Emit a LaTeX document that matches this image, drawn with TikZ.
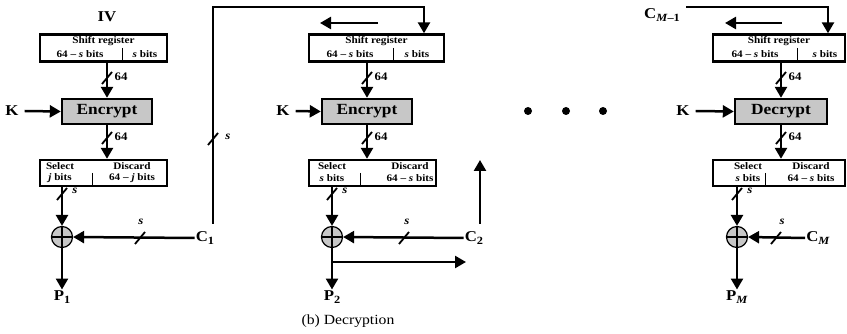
\documentclass[tikz,border=0pt]{standalone}
\usepackage{fontspec}
\setmainfont[FakeStretch=1.12]{Liberation Serif}
\usetikzlibrary{arrows.meta,calc}
\newcommand\sbx[1]{\raisebox{-0.4ex}{\fontsize{11}{11}\selectfont #1}}
\begin{document}
\begin{tikzpicture}[x=1pt,y=-1pt,
  wire/.style={line width=2.5pt},
  arr/.style={wire,-{Triangle[length=11pt,width=12pt]}},
  regbox/.style={draw,line width=2.4pt,minimum height=27pt,inner sep=0pt},
  encbox/.style={draw,line width=2.4pt,fill=black!22,minimum width=90pt,minimum height=25pt,inner sep=0pt,font=\fontsize{15.5}{15.5}\selectfont\bfseries},
  small/.style={inner sep=0pt,font=\fontsize{10}{10}\selectfont\bfseries},
  lab/.style={inner sep=0pt,font=\fontsize{11.5}{11.5}\selectfont\bfseries},
  big/.style={inner sep=1pt,font=\fontsize{15}{15}\selectfont\bfseries},
  xorc/.style={draw,circle,line width=1.2pt,fill=black!22,minimum size=21pt,inner sep=0pt},
  dotc/.style={circle,fill=black,minimum size=8pt,inner sep=0pt},
  slash/.pic={\draw[line width=1.8pt] (-5,6) -- (5,-6);}
]
\useasboundingbox (0,0) rectangle (847,334);

% ---------- column 1 ----------
\node[big] (IV) at (107,17) {IV};
\node[regbox,minimum width=127pt] (sr1) at (103.5,48) {};
\draw[line width=1pt] (122,48) -- (122,62);
\node[small] (sr1t) at (103.5,41.5) {Shift register};
\node[small] (sr1a) at (80,54) {64 – \textit{s} bits};
\node[small] (sr1b) at (145,54) {\textit{s} bits};
\node[encbox] (enc1) at (107,111.5) {Encrypt};
\node[big] (K1) at (12,111) {K};
\draw[arr] (K1.east) ++(5,0) -- (enc1.west);
\node[regbox,minimum width=127pt,minimum height=26pt] (sel1) at (103.5,173) {};
\draw[line width=1pt] (92,173) -- (92,186);
\node[small] (sel1a) at (60,166) {Select};
\node[small] (sel1b) at (60,178.5) {\textit{j} bits};
\node[small] (sel1c) at (132,166) {Discard};
\node[small] (sel1d) at (132,178.5) {64 – \textit{j} bits};
\node[xorc] (x1) at (62,237) {};
\draw[line width=1.2pt] (x1.north) -- (x1.south) (x1.west) -- (x1.east);
\node[big] (C1) at (205,238) {C\sbx{1}};
\node[big] (P1) at (62,297) {P\sbx{1}};
\draw[arr] (enc1.north |- sr1.south) -- (enc1.north);
\draw[arr] (enc1.south) -- (enc1.south |- sel1.north);
\draw[arr] (x1 |- sel1.south) -- (x1.north);
\draw[arr] (C1.west) -- (x1.east);
\draw[arr] (x1.south) -- (P1.north);
\pic at (107,78) {slash}; \node[lab] (l1a) at (121,77) {64};
\pic at (107,138) {slash}; \node[lab] (l1b) at (121,137) {64};
\pic at (62,194) {slash}; \node[lab] (l1c) at (75,191) {\textit{s}};
\pic at (140,238) {slash}; \node[lab] (l1d) at (141,222) {\textit{s}};
\pic at (213,139) {slash}; \node[lab] (l1e) at (228,137) {\textit{s}};
\coordinate (f1a) at (213,224);
\coordinate (f1b) at (424,7);

% ---------- column 2 ----------
\node[regbox,minimum width=135pt] (sr2) at (376.5,48) {};
\draw[line width=1pt] (393,48) -- (393,62);
\node[small] (sr2t) at (376.5,41.5) {Shift register};
\node[small] (sr2a) at (350,54) {64 – \textit{s} bits};
\node[small] (sr2b) at (417,54) {\textit{s} bits};
\coordinate (fb2a) at (378,23);
\coordinate (fb2b) at (320,23);
\draw[arr] (fb2a) -- (fb2b);
\draw[arr] (f1a) |- (f1b) -- (f1b |- sr2.north);
\node[encbox] (enc2) at (367,111.5) {Encrypt};
\node[big] (K2) at (283,111) {K};
\draw[arr] (K2.east) ++(5,0) -- (enc2.west);
\node[regbox,minimum width=127pt,minimum height=26pt] (sel2) at (372.5,173) {};
\draw[line width=1pt] (360,173) -- (360,186);
\node[small] (sel2a) at (332,166) {Select};
\node[small] (sel2b) at (332,178.5) {\textit{s} bits};
\node[small] (sel2c) at (410,166) {Discard};
\node[small] (sel2d) at (410,178.5) {64 – \textit{s} bits};
\node[xorc] (x2) at (332,237) {};
\draw[line width=1.2pt] (x2.north) -- (x2.south) (x2.west) -- (x2.east);
\node[big] (C2) at (474,238) {C\sbx{2}};
\node[big] (P2) at (332,297) {P\sbx{2}};
\draw[arr] (enc2.north |- sr2.south) -- (enc2.north);
\draw[arr] (enc2.south) -- (enc2.south |- sel2.north);
\draw[arr] (x2 |- sel2.south) -- (x2.north);
\draw[arr] (C2.west) -- (x2.east);
\draw[arr] (x2.south) -- (P2.north);
\coordinate (c2a) at (480,224);
\coordinate (c2b) at (480,160);
\draw[arr] (c2a) -- (c2b);
\coordinate (br2a) at (332,262);
\coordinate (br2b) at (466,262);
\draw[arr] (br2a) -- (br2b);
\pic at (367,78) {slash}; \node[lab] (l2a) at (381,77) {64};
\pic at (367,138) {slash}; \node[lab] (l2b) at (381,137) {64};
\pic at (332,194) {slash}; \node[lab] (l2c) at (345,191) {\textit{s}};
\pic at (404,238) {slash}; \node[lab] (l2d) at (407,222) {\textit{s}};
\node[inner sep=0pt,font=\fontsize{14}{14}\selectfont] (cap) at (348,321) {(b) Decryption};

% ---------- dots ----------
\node[dotc] (d1) at (528,111) {};
\node[dotc] (d2) at (566,111) {};
\node[dotc] (d3) at (603,111) {};

% ---------- column 3 ----------
\node[big] (CM1) at (662,15) {C\sbx{\textit{M}–1}};
\coordinate (f3a) at (686,7);
\coordinate (f3b) at (828,7);
\node[regbox,minimum width=132pt] (sr3) at (779,48) {};
\draw[line width=1pt] (797,48) -- (797,62);
\node[small] (sr3t) at (779,41.5) {Shift register};
\node[small] (sr3a) at (755,54) {64 – \textit{s} bits};
\node[small] (sr3b) at (825,54) {\textit{s} bits};
\draw[arr] (f3a) -- (f3b) -- (f3b |- sr3.north);
\coordinate (fb3a) at (782,23);
\coordinate (fb3b) at (725,23);
\draw[arr] (fb3a) -- (fb3b);
\node[encbox,minimum width=92pt] (enc3) at (781,111.5) {Decrypt};
\node[big] (K3) at (683,111) {K};
\draw[arr] (K3.east) ++(5,0) -- (enc3.west);
\node[regbox,minimum width=132pt,minimum height=26pt] (sel3) at (779,173) {};
\draw[line width=1pt] (765,173) -- (765,186);
\node[small] (sel3a) at (748,166) {Select};
\node[small] (sel3b) at (748,178.5) {\textit{s} bits};
\node[small] (sel3c) at (811,166) {Discard};
\node[small] (sel3d) at (811,178.5) {64 – \textit{s} bits};
\node[xorc] (x3) at (737,237) {};
\draw[line width=1.2pt] (x3.north) -- (x3.south) (x3.west) -- (x3.east);
\node[big] (CM) at (818,238) {C\sbx{\textit{M}}};
\node[big] (PM) at (737,297) {P\sbx{\textit{M}}};
\draw[arr] (enc3.north |- sr3.south) -- (enc3.north);
\draw[arr] (enc3.south) -- (enc3.south |- sel3.north);
\draw[arr] (x3 |- sel3.south) -- (x3.north);
\draw[arr] (CM.west) -- (x3.east);
\draw[arr] (x3.south) -- (PM.north);
\pic at (781,78) {slash}; \node[lab] (l3a) at (795,77) {64};
\pic at (781,138) {slash}; \node[lab] (l3b) at (795,137) {64};
\pic at (737,194) {slash}; \node[lab] (l3c) at (750,191) {\textit{s}};
\pic at (776,238) {slash}; \node[lab] (l3d) at (782,222) {\textit{s}};
\end{tikzpicture}
\end{document}
